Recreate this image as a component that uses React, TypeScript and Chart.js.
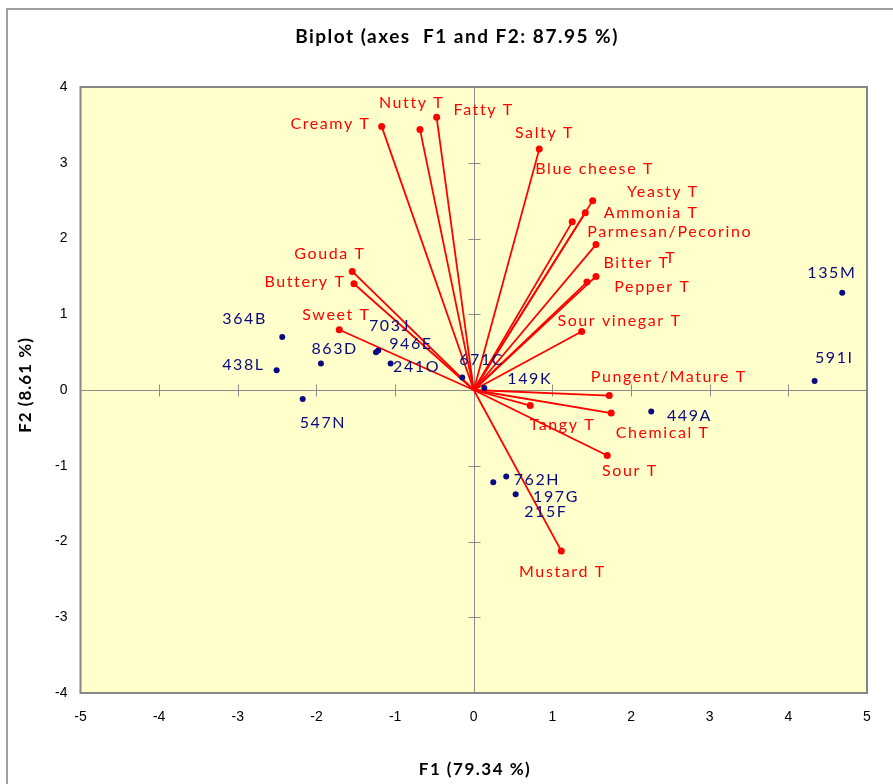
import React, { useEffect, useRef } from 'react';
import { Chart, registerables } from 'chart.js';

Chart.register(...registerables);

// ---------- data ----------
const obsNames = ['364B', '438L', '863D', '547N', '703J', '946E', '241O', '671C', '149K', '449A', '135M', '591I', '762H', '197G', '215F'];
const obsF1 = [-2.435, -2.506, -1.943, -2.175, -1.243, -1.214, -1.057, -0.146, 0.134, 2.257, 4.685, 4.334, 0.413, 0.533, 0.248];
const obsF2 = [0.70, 0.26, 0.35, -0.12, 0.50, 0.52, 0.35, 0.165, 0.025, -0.284, 1.284, 0.118, -1.143, -1.375, -1.217];

const varNames = ['Creamy T', 'Nutty T', 'Fatty T', 'Salty T', 'Blue cheese T', 'Yeasty T', 'Ammonia T', 'Parmesan/Pecorino T', 'Bitter T', 'Pepper T', 'Sour vinegar T', 'Pungent/Mature T', 'Chemical T', 'Tangy T', 'Sour T', 'Mustard T', 'Gouda T', 'Buttery T', 'Sweet T'];
const varF1 = [-1.171, -0.684, -0.472, 0.833, 1.252, 1.512, 1.418, 1.554, 1.554, 1.439, 1.372, 1.723, 1.748, 0.718, 1.697, 1.113, -1.545, -1.523, -1.710];
const varF2 = [3.48, 3.44, 3.60, 3.18, 2.22, 2.50, 2.34, 1.92, 1.50, 1.425, 0.773, -0.073, -0.305, -0.205, -0.865, -2.124, 1.565, 1.403, 0.795];

const xTickValues = [-5, -4, -3, -2, -1, 0, 1, 2, 3, 4, 5];
const yTickValues = [-4, -3, -2, -1, 0, 1, 2, 3, 4];

const chartTitle = 'Biplot (axes  F1 and F2: 87.95 %)';
const xAxisTitle = 'F1 (79.34 %)';
const yAxisTitle = 'F2 (8.61 %)';

// ---------- label placement (pixel offsets of text centre from the mark) ----------
const obsLabelOffsets: number[][] = [
  [-37.6, -18], [-33.2, -5.4], [13.7, -14.7], [20.2, 23.3], [13.5, -26], [32.6, -6.4], [26, 3.6],
  [19.4, -17.7], [45.4, -9.3], [38.2, 4], [-10.4, -19.7], [19.7, -23], [30.7, 3.3], [40.3, 2.4], [52.6, 29.4],
];
const varLabelOffsets: number[][] = [
  [-51.2, -2.7], [-8.3, -26.7], [47.1, -7], [5.2, -16.6], [22.4, -53], [70.3, -8.4], [65.9, 0],
  [73.7, -13], [40.5, -13.4], [65.5, 4.4], [37.8, -11], [59.6, -19], [51.4, 20], [32.2, 19.3],
  [22.7, 15], [1.1, 20.7], [-22.3, -17.7], [-49, -1.7], [-2.8, -15],
];

const RED = '#FF0000';
const NAVY = '#0A0A80';
const LABEL_FONT = '16px Lato, "Open Sans", sans-serif';

function setSpacing(ctx: any, v: string) {
  try { ctx.letterSpacing = v; } catch (e) { /* ignore */ }
}

const decorPlugin = {
  id: 'biplotDecor',
  beforeDraw(chart: any) {
    const { ctx, width, height, chartArea: a } = chart;
    const xs = chart.scales.x;
    const ys = chart.scales.y;
    ctx.save();
    ctx.fillStyle = '#ffffff';
    ctx.fillRect(0, 0, width, height);
    // outer frame
    ctx.strokeStyle = '#a0a0a0';
    ctx.lineWidth = 2;
    ctx.beginPath();
    ctx.moveTo(7, height);
    ctx.lineTo(7, 9);
    ctx.lineTo(width, 9);
    ctx.stroke();
    // plot background
    ctx.fillStyle = '#FFFFCC';
    ctx.fillRect(a.left, a.top, a.right - a.left, a.bottom - a.top);
    // axes through origin with tick marks
    const x0 = Math.round(xs.getPixelForValue(0)) + 0.5;
    const y0 = Math.round(ys.getPixelForValue(0)) + 0.5;
    ctx.strokeStyle = '#8c8c8c';
    ctx.lineWidth = 1;
    ctx.beginPath();
    ctx.moveTo(a.left, y0);
    ctx.lineTo(a.right, y0);
    ctx.moveTo(x0, a.top);
    ctx.lineTo(x0, a.bottom);
    xTickValues.forEach((v) => {
      if (v === 0 || v === xTickValues[0] || v === xTickValues[xTickValues.length - 1]) return;
      const px = Math.round(xs.getPixelForValue(v)) + 0.5;
      ctx.moveTo(px, y0 - 6);
      ctx.lineTo(px, y0 + 6);
    });
    yTickValues.forEach((v) => {
      if (v === 0 || v === yTickValues[0] || v === yTickValues[yTickValues.length - 1]) return;
      const py = Math.round(ys.getPixelForValue(v)) + 0.5;
      ctx.moveTo(x0 - 6, py);
      ctx.lineTo(x0 + 6, py);
    });
    ctx.stroke();
    // plot frame
    ctx.strokeStyle = '#868686';
    ctx.lineWidth = 2;
    ctx.strokeRect(a.left, a.top, a.right - a.left, a.bottom - a.top);
    ctx.restore();
  },
  afterDatasetsDraw(chart: any) {
    const { ctx } = chart;
    const xs = chart.scales.x;
    const ys = chart.scales.y;
    ctx.save();
    ctx.font = LABEL_FONT;
    setSpacing(ctx, '1.6px');
    ctx.textAlign = 'center';
    ctx.textBaseline = 'middle';
    // variable labels
    ctx.fillStyle = RED;
    varNames.forEach((name, i) => {
      const px = xs.getPixelForValue(varF1[i]);
      const py = ys.getPixelForValue(varF2[i]);
      const [dx, dy] = varLabelOffsets[i];
      if (name === 'Parmesan/Pecorino T') {
        ctx.fillText('Parmesan/Pecorino', px + dx, py + dy);
        ctx.fillText('T', px + dx + 1, py + dy + 26);
      } else {
        ctx.fillText(name, px + dx, py + dy);
      }
    });
    // observation labels
    ctx.fillStyle = NAVY;
    obsNames.forEach((name, i) => {
      const px = xs.getPixelForValue(obsF1[i]);
      const py = ys.getPixelForValue(obsF2[i]);
      const [dx, dy] = obsLabelOffsets[i];
      ctx.fillText(name, px + dx, py + dy);
    });
    ctx.restore();
  },
  afterDraw(chart: any) {
    const { ctx } = chart;
    ctx.save();
    ctx.fillStyle = '#000000';
    ctx.textAlign = 'center';
    ctx.textBaseline = 'middle';
    ctx.font = 'bold 19px Lato, "Open Sans", sans-serif';
    setSpacing(ctx, '1.5px');
    ctx.fillText(chartTitle, 457, 37);
    ctx.font = 'bold 17px Lato, "Open Sans", sans-serif';
    setSpacing(ctx, '1.5px');
    ctx.fillText(xAxisTitle, 475, 770);
    setSpacing(ctx, '1px');
    ctx.translate(26, 385);
    ctx.rotate(-Math.PI / 2);
    ctx.fillText(yAxisTitle, 0, 0);
    ctx.restore();
  },
};

export default function App() {
  const canvasRef = useRef<HTMLCanvasElement | null>(null);

  useEffect(() => {
    document.body.style.margin = '0';
    const canvas = canvasRef.current;
    if (!canvas) return;

    const datasets: any[] = [
      {
        label: 'Observations',
        data: obsF1.map((x, i) => ({ x, y: obsF2[i] })),
        backgroundColor: NAVY,
        borderColor: NAVY,
        pointRadius: 3,
        pointBorderWidth: 0,
        showLine: false,
      },
    ];
    varNames.forEach((name, i) => {
      datasets.push({
        label: name,
        data: [{ x: 0, y: 0 }, { x: varF1[i], y: varF2[i] }],
        showLine: true,
        borderColor: RED,
        borderWidth: 1.8,
        backgroundColor: RED,
        pointBackgroundColor: RED,
        pointBorderColor: RED,
        pointRadius: [0, 3.5],
        pointBorderWidth: 0,
      });
    });

    const tickFont = { family: '"Liberation Sans", Arial, sans-serif', size: 14 };

    const chart = new Chart(canvas, {
      type: 'scatter',
      data: { datasets },
      options: {
        responsive: false,
        animation: false,
        devicePixelRatio: 1,
        layout: { padding: { left: 0, right: 26, top: 87, bottom: 0 } },
        plugins: {
          legend: { display: false },
          title: { display: false },
          tooltip: { enabled: false },
        },
        scales: {
          x: {
            type: 'linear',
            min: -5,
            max: 5,
            afterFit: (s: any) => { s.height = 91; },
            grid: { display: false, drawTicks: false },
            border: { display: false },
            ticks: {
              stepSize: 1,
              padding: 16,
              color: '#000',
              font: tickFont,
              maxRotation: 0,
              callback: (v: any) => String(v),
            },
          },
          y: {
            type: 'linear',
            min: -4,
            max: 4,
            afterFit: (s: any) => { s.width = 80.5; },
            grid: { display: false, drawTicks: false },
            border: { display: false },
            ticks: {
              stepSize: 1,
              padding: 13,
              color: '#000',
              font: tickFont,
              callback: (v: any) => String(v),
            },
          },
        },
      },
      plugins: [decorPlugin],
    } as any);

    return () => {
      chart.destroy();
    };
  }, []);

  return (
    <div style={{ position: 'absolute', left: 0, top: 0, width: 893, height: 784 }}>
      <canvas ref={canvasRef} width={893} height={784} style={{ display: 'block', width: 893, height: 784 }} />
    </div>
  );
}
